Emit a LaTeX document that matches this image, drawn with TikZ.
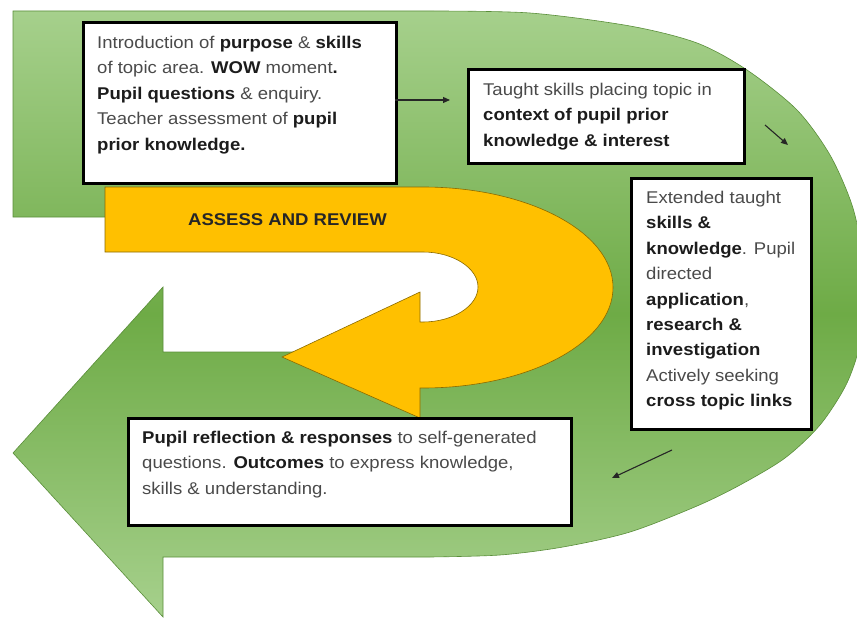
\documentclass[tikz,border=0pt]{standalone}
\usepackage{fontspec}
\setmainfont[FakeStretch=1.09]{Liberation Sans}
\usetikzlibrary{arrows.meta}
\definecolor{gL}{HTML}{A6D08C}
\definecolor{gD}{HTML}{6EAB46}
\definecolor{gE}{HTML}{5A8E3A}
\definecolor{yF}{HTML}{FFC000}
\definecolor{yE}{HTML}{8A6A00}
\definecolor{txtc}{HTML}{4A4A4A}
\definecolor{bldc}{HTML}{1C1C1C}
\newcommand\bb[1]{\textbf{\color{bldc}#1}}
\begin{document}
\begin{tikzpicture}[x=1pt,y=-1pt,
 frame/.style={draw=black, line width=3pt, fill=white, inner sep=0pt, anchor=north west},
 txt/.style={anchor=north west, inner sep=0pt, align=left, text=txtc, font=\fontsize{17}{25.4}\selectfont},
 flow/.style={line width=1.1pt, draw=black!85, -{Triangle[length=7pt,width=6pt]}},
 greenarrow/.style={top color=gL, bottom color=gL, middle color=gD, draw=gE, line width=0.6pt},
 yellowarrow/.style={fill=yF, draw=yE, line width=0.6pt}
]
\useasboundingbox (0,0) rectangle (857,623);

% green U-turn arrow
\path[greenarrow] (13,11) -- plot[smooth] coordinates {(430,11) (530,13) (630,26) (697,43) (747,70) (797,110) (830,155) (852,205) (863,255) (866,300) (860,345) (846,385) (820,425) (785,458) (740,485) (697,506) (630,532) (563,547) (500,555) (430,557)}
  -- (163,557) -- (163,617) -- (13,453) -- (163,287) -- (163,352) -- (430,352)
  .. controls (513,352) and (580,321.8) .. (580,284.5)
  .. controls (580,247.2) and (513,217) .. (430,217) -- (13,217) -- cycle;

% yellow U-turn arrow
\path[yellowarrow] (105,187) -- (423,187)
  .. controls (528,187) and (613,232) .. (613,287.5)
  .. controls (613,343) and (528,388) .. (423,388)
  -- (420,388) -- (420,418) -- (282,357) -- (420,292) -- (420,322) -- (423,322)
  .. controls (453,322) and (478,306) .. (478,287)
  .. controls (478,268) and (453,252) .. (423,252) -- (105,252) -- cycle;

\node[font=\fontsize{17}{20}\selectfont\bfseries, text=black!85] (ar) at (287.5,220) {ASSESS AND REVIEW};

% boxes
\node[frame, minimum width=313pt, minimum height=161pt] (b1) at (82,21) {};
\node[txt] (t1) at (97,36) {Introduction of \bb{purpose} \& \bb{skills}\\
of topic area. \bb{WOW} moment\bb{.}\\
\bb{Pupil questions} \& enquiry.\\
Teacher assessment of \bb{pupil}\\
\bb{prior knowledge.}};

\node[frame, minimum width=276pt, minimum height=94pt] (b2) at (467,68) {};
\node[txt] (t2) at (483,83) {Taught skills placing topic in\\
\bb{context of pupil prior}\\
\bb{knowledge \& interest}};

\node[frame, minimum width=180pt, minimum height=251pt] (b3) at (630,177) {};
\node[txt] (t3) at (646,191) {Extended taught\\
\bb{skills \&}\\
\bb{knowledge}. Pupil\\
directed\\
\bb{application},\\
\bb{research \&}\\
\bb{investigation}\\
Actively seeking\\
\bb{cross topic links}};

\node[frame, minimum width=443pt, minimum height=107pt] (b4) at (127,417) {};
\node[txt] (t4) at (142,431) {\bb{Pupil reflection \& responses} to self-generated\\
questions. \bb{Outcomes} to express knowledge,\\
skills \& understanding.};

% flow arrows
\coordinate (a1s) at (395,100);
\coordinate (a1e) at (450,100);
\coordinate (a2s) at (765,125);
\coordinate (a2e) at (788,145);
\coordinate (a3s) at (672,450);
\coordinate (a3e) at (612,478);
\draw[flow] (a1s) -- (a1e);
\draw[flow] (a2s) -- (a2e);
\draw[flow] (a3s) -- (a3e);
\end{tikzpicture}
\end{document}
